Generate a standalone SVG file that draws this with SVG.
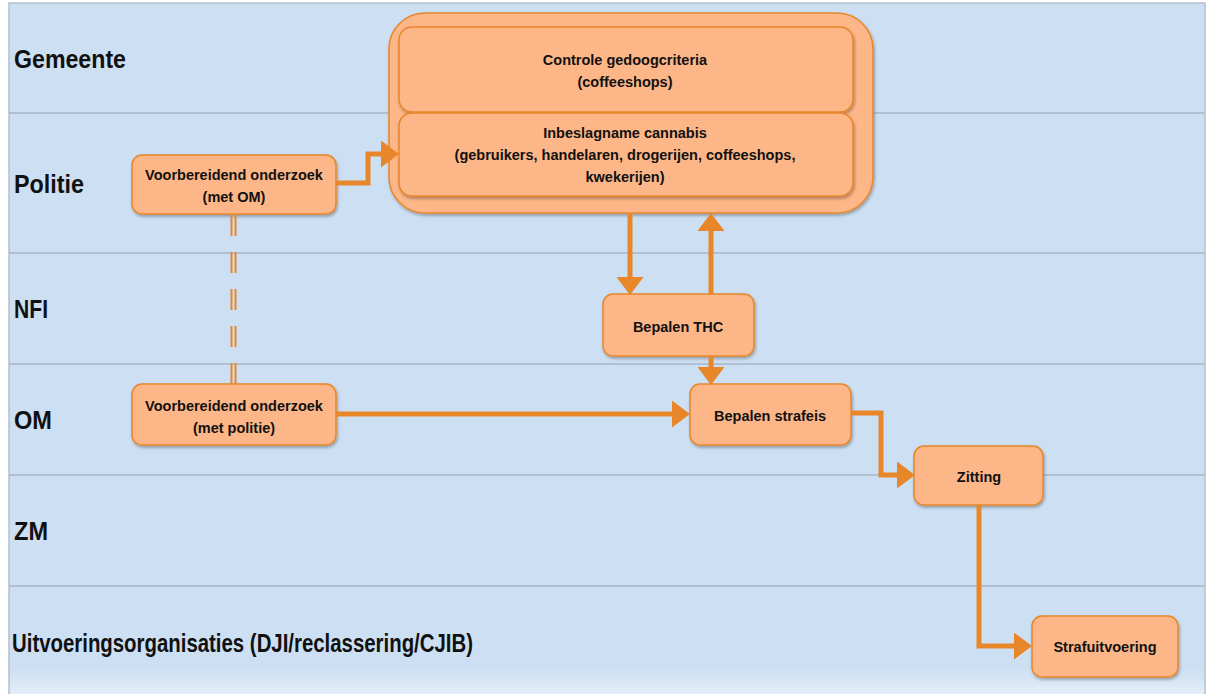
<svg xmlns="http://www.w3.org/2000/svg" width="1211" height="694" viewBox="0 0 1211 694">
<style>
.lane{font-family:"Liberation Sans",Arial,sans-serif;font-weight:bold;font-size:25px;fill:#111}
.lbl{font-family:"Liberation Sans",Arial,sans-serif;font-weight:bold;font-size:14.5px;fill:#111;text-anchor:middle}
.box{fill:#fdb687;stroke:#e8862a;stroke-width:1.5}
.conn{fill:none;stroke:#e8862a;stroke-width:5;stroke-linejoin:miter}
.sep{stroke:#a6b6c6;stroke-width:1.5}
</style>
<defs>
<linearGradient id="bg" x1="0" y1="0" x2="0" y2="1">
<stop offset="0" stop-color="#cddff2"/>
<stop offset="0.95" stop-color="#cddff2"/>
<stop offset="1" stop-color="#eaf2fb"/>
</linearGradient>
<filter id="sh" x="-10%" y="-10%" width="120%" height="130%">
<feDropShadow dx="1" dy="2" stdDeviation="1.8" flood-color="#000" flood-opacity="0.3"/>
</filter>
<marker id="ah" viewBox="0 0 18 27" refX="0" refY="13.5" markerWidth="18" markerHeight="27" markerUnits="userSpaceOnUse" orient="auto">
<path d="M0,0 L18,13.5 L0,27 z" fill="#e8862a"/>
</marker>
</defs>
<rect x="0" y="0" width="1211" height="694" fill="#ffffff"/>
<g id="lanes">
<rect x="9" y="3" width="1196" height="700" fill="url(#bg)" stroke="#b4c0cc" stroke-width="1.5"/>
<line class="sep" x1="9" y1="113" x2="1205" y2="113"/>
<line class="sep" x1="9" y1="253" x2="1205" y2="253"/>
<line class="sep" x1="9" y1="364" x2="1205" y2="364"/>
<line class="sep" x1="9" y1="475" x2="1205" y2="475"/>
<line class="sep" x1="9" y1="586" x2="1205" y2="586"/>
<text class="lane" x="14" y="68" textLength="112" lengthAdjust="spacingAndGlyphs">Gemeente</text>
<text class="lane" x="14" y="193" textLength="70" lengthAdjust="spacingAndGlyphs">Politie</text>
<text class="lane" x="14" y="318" textLength="34" lengthAdjust="spacingAndGlyphs">NFI</text>
<text class="lane" x="14" y="429" textLength="38" lengthAdjust="spacingAndGlyphs">OM</text>
<text class="lane" x="14" y="540" textLength="34" lengthAdjust="spacingAndGlyphs">ZM</text>
<text class="lane" x="12" y="652" textLength="461" lengthAdjust="spacingAndGlyphs">Uitvoeringsorganisaties (DJI/reclassering/CJIB)</text>
</g>
<g id="container">
<rect class="box" x="389" y="13" width="484" height="200" rx="36" filter="url(#sh)"/>
</g>
<g id="controle">
<rect class="box" x="399" y="27" width="454" height="85" rx="13" filter="url(#sh)"/>
<text class="lbl" x="625" y="65">Controle gedoogcriteria</text>
<text class="lbl" x="625" y="87">(coffeeshops)</text>
</g>
<g id="inbeslagname">
<rect class="box" x="399" y="113" width="454" height="83" rx="13" filter="url(#sh)"/>
<text class="lbl" x="625" y="138">Inbeslagname cannabis</text>
<text class="lbl" x="625" y="160">(gebruikers, handelaren, drogerijen, coffeeshops,</text>
<text class="lbl" x="625" y="182">kwekerijen)</text>
</g>
<g id="voorb-politie">
<rect class="box" x="132" y="155" width="204" height="59" rx="10" filter="url(#sh)"/>
<text class="lbl" x="234" y="180">Voorbereidend onderzoek</text>
<text class="lbl" x="234" y="202">(met OM)</text>
</g>
<g id="voorb-om">
<rect class="box" x="132" y="384" width="204" height="61" rx="10" filter="url(#sh)"/>
<text class="lbl" x="234" y="411">Voorbereidend onderzoek</text>
<text class="lbl" x="234" y="433">(met politie)</text>
</g>
<g id="thc">
<rect class="box" x="603" y="294" width="151" height="62" rx="10" filter="url(#sh)"/>
<text class="lbl" x="678" y="332">Bepalen THC</text>
</g>
<g id="strafeis">
<rect class="box" x="690" y="384" width="161" height="61" rx="10" filter="url(#sh)"/>
<text class="lbl" x="770" y="421">Bepalen strafeis</text>
</g>
<g id="zitting">
<rect class="box" x="914" y="446" width="129" height="59" rx="10" filter="url(#sh)"/>
<text class="lbl" x="979" y="482">Zitting</text>
</g>
<g id="strafuitvoering">
<rect class="box" x="1032" y="616" width="146" height="61" rx="10" filter="url(#sh)"/>
<text class="lbl" x="1105" y="652">Strafuitvoering</text>
</g>
<g id="connectors">
<path class="conn" d="M336,183 H368 V154 H381" marker-end="url(#ah)"/>
<path class="conn" d="M630,213 V277" marker-end="url(#ah)"/>
<path class="conn" d="M711,294 V231" marker-end="url(#ah)"/>
<path class="conn" d="M711,356 V367" marker-end="url(#ah)"/>
<path class="conn" d="M336,414 H672" marker-end="url(#ah)"/>
<path class="conn" d="M851,413 H881 V475 H897" marker-end="url(#ah)"/>
<path class="conn" d="M979,505 V646 H1014" marker-end="url(#ah)"/>
<g stroke="#e8862a" stroke-width="2" stroke-dasharray="21,16">
<line x1="231.5" y1="215" x2="231.5" y2="384"/>
<line x1="235.5" y1="215" x2="235.5" y2="384"/>
</g>
</g>
</svg>
